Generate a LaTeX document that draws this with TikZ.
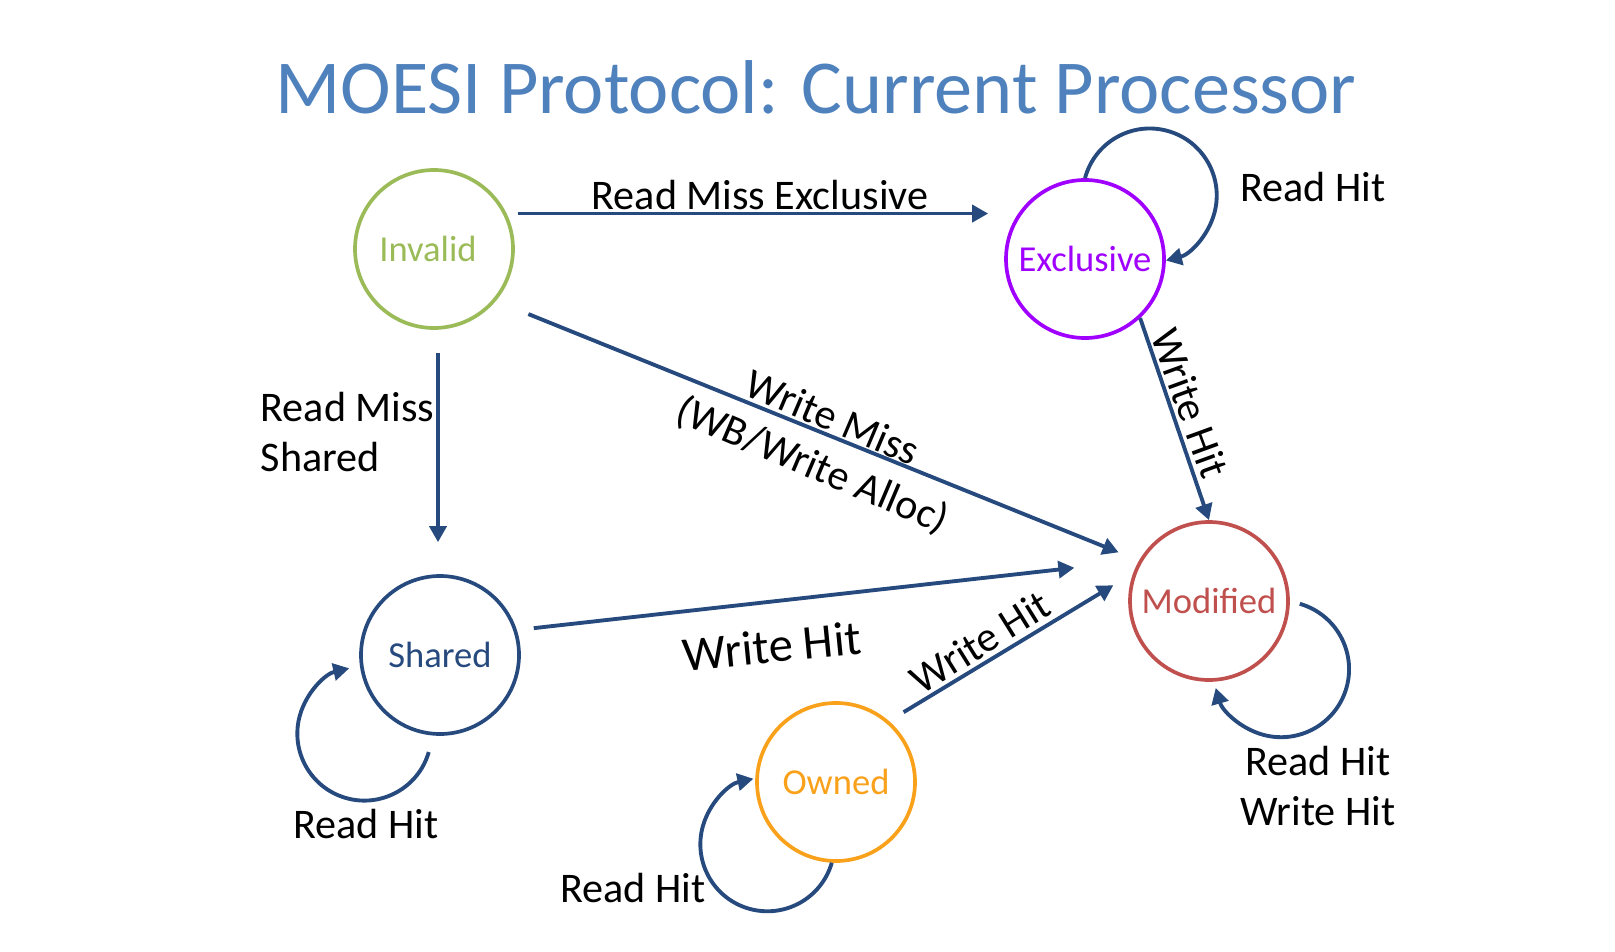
\documentclass[tikz,border=0pt]{standalone}
\usepackage{fontspec}
\setmainfont{Carlito}
\usepackage{xcolor}
\usetikzlibrary{arrows.meta, calc}
\definecolor{cTitle}   {HTML}{4F81BD}
\definecolor{cLink}    {HTML}{264A7E}
\definecolor{cInvalid} {HTML}{9BBB59}
\definecolor{cExcl}    {HTML}{A000FF}
\definecolor{cMod}     {HTML}{C0504D}
\definecolor{cOwned}   {HTML}{F9A11B}
\tikzset{
  state/.style={circle, draw, line width=1.05pt, minimum size=15.8mm, inner sep=0pt,
                font=\fontsize{10.4}{12}\selectfont},
  link/.style={draw=cLink, line width=1.1pt, -{Triangle[length=1.6mm,width=1.7mm]}},
  lbl/.style={font=\fontsize{12}{14.5}\selectfont, text=black, inner sep=0pt},
}

\begin{document}
\begin{tikzpicture}[x=0.1mm, y=-0.1mm]
        \useasboundingbox (0,0) rectangle (1615,952);
        \node[font=\fontsize{21.7}{26}\selectfont, text=cTitle] (title) at (816,87) {MOESI Protocol: Current Processor};

        \node[state, draw=cInvalid, text=cInvalid] (inv) at (434,249) {Invalid\kern1.2mm};
        \node[state, draw=cExcl, text=cExcl]       (ex)  at (1085,259) {Exclusive};
        \node[state, draw=cMod, text=cMod]         (md)  at (1209,601) {Modified};
        \node[state, draw=cLink, text=cLink]       (sh)  at (440,655) {Shared};
        \node[state, draw=cOwned, text=cOwned]     (ow)  at (836,782) {Owned};

        \draw[link, shorten <=1.1mm, shorten >=1.6mm] (inv.26) -- (inv.26 -| ex.west);
        \draw[link, shorten <=2.3mm, shorten >=3.2mm] ([xshift=0.4mm]inv.south) -- ([xshift=0.4mm]inv.south |- sh.north);
        \draw[link, shorten <=3.5mm, shorten >=2.2mm] (inv.-40) -- (md.150);
        \draw[link] (ex.-47) -- (md.north);
        \draw[link, shorten <=1.7mm, shorten >=6.5mm] (sh.18) -- (md.150);
        \draw[link, shorten <=1.7mm, shorten >=2.3mm] (ow.49) -- (md.160);

        \draw[link] (ex.north) arc[start angle=165, end angle=-76, radius=6.7mm];
        \draw[link] ([yshift=-1.7mm]sh.-98) arc[start angle=-16, end angle=-257, radius=6.7mm];
        \draw[link] (ow.-93) arc[start angle=-16, end angle=-258, radius=6.7mm];
        \draw[link] ([xshift=1mm]md.-2) arc[start angle=74, end angle=-164, radius=6.8mm];

        \node[lbl] (lRME) at (760,195) {Read Miss Exclusive};
        \node[lbl, align=left, anchor=west] (lRMS) at (260,432) {Read Miss\\Shared};
        \node[lbl, rotate=-23, align=center] (lWM) at (822,443) {Write Miss\\(WB/Write Alloc)};
        \node[lbl, rotate=-70] (lWHex) at (1190,403) {Write Hit};
        \node[lbl, rotate=5.6, font=\fontsize{13.8}{16}\selectfont] (lWHsh) at (772,646) {Write Hit};
        \node[lbl, rotate=32] (lWHow) at (980,642) {Write Hit};
        \node[lbl] (lRHex) at (1313,187) {Read Hit};
        \node[lbl] (lRHsh) at (366,824) {Read Hit};
        \node[lbl] (lRHow) at (633,888) {Read Hit};
        \node[lbl, align=center] (lRHmd) at (1318,786) {Read Hit\\Write Hit};
      \end{tikzpicture}
\end{document}
